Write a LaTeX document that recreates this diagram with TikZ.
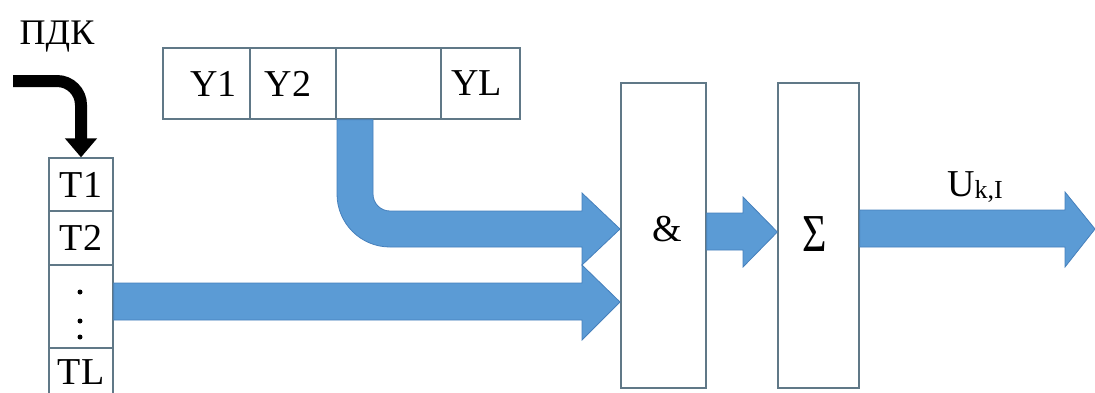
\documentclass[tikz,border=0pt]{standalone}
\usepackage{fontspec}
\setmainfont{Liberation Serif}
\usetikzlibrary{arrows.meta}
\definecolor{arrowblue}{RGB}{91,155,213}
\definecolor{arrowedge}{RGB}{70,128,188}
\definecolor{boxline}{RGB}{96,120,135}
\newcommand{\bigtxt}{\rmfamily\fontsize{38}{40}\selectfont}
\begin{document}
\begin{tikzpicture}[x=1pt,y=-1pt,
  cell/.style={draw=boxline, line width=1.3pt, fill=white, inner sep=0pt,
               font=\bigtxt},
  block/.style={draw=boxline, line width=1.3pt, fill=white, inner sep=0pt,
                minimum width=#1, minimum height=305pt},
  lbl/.style={inner sep=0pt, font=\bigtxt},
  fat/.style={fill=arrowblue, draw=arrowedge, line width=0.8pt, line join=miter},
  dotmark/.style={fill=black, circle, inner sep=0pt, minimum size=5pt}]
\useasboundingbox (0,0) rectangle (1095,392);
\clip (0,0) rectangle (1095,392);
\fill[white] (0,0) rectangle (1095,392);

% Y register
\node[cell, minimum width=87pt, minimum height=71pt] (y1) at (206.5,83.5) {\hspace*{14pt}Y1};
\node[cell, minimum width=86pt, minimum height=71pt] (y2) at (293,83.5) {Y2\hspace*{10pt}};
\node[cell, minimum width=105pt, minimum height=71pt] (y3) at (388.5,83.5) {};
\node[cell, minimum width=79pt, minimum height=71pt] (yl) at (480.5,83.5) {YL\hspace*{8pt}};

% T register
\node[cell, minimum width=64pt, minimum height=53pt] (t1) at (81,184.5) {T1};
\node[cell, minimum width=64pt, minimum height=54pt] (t2) at (81,238) {T2};
\node[cell, minimum width=64pt, minimum height=83pt] (t3) at (81,306.5) {};
\node[cell, minimum width=64pt, minimum height=60pt] (tl) at (81,378) {};
\node[lbl] (tltext) at (81,372) {TL};
\node[dotmark] (d1) at (80,292) {};
\node[dotmark] (d2) at (80,321) {};
\node[dotmark] (d3) at (80,337) {};

% blocks
\node[block=85pt] (and) at (663.5,235.5) {};
\node[block=81pt] (sum) at (818.5,235.5) {};
\node[lbl] (andlbl) at (667,229) {\&};
\node[lbl] (sumlbl) at (815,234) {\scalebox{1}[1.27]{\rmfamily\fontsize{42}{42}\selectfont Σ}};

% PDK
\node[lbl, font=\rmfamily\fontsize{36}{38}\selectfont] (pdk) at (57,37) {ПДК};
\coordinate (pdkstart) at (13,81);
\draw[line width=12pt, rounded corners=24pt,
      -{Triangle[length=19pt,width=31pt]}]
  (pdkstart) -- (t1.north |- pdkstart) -- (t1.north);

% blue fat arrows
\path[fat] (337,119.7) -- (337,194)
  .. controls (337,223.3) and (360.7,247) .. (390,247)
  -- (582,247) -- (582,265) -- (620,229) -- (582,193) -- (582,211)
  -- (390,211) .. controls (380.6,211) and (373,203.4) .. (373,194)
  -- (373,119.7) -- cycle;
\path[fat] (t3.east |- 0,283) -- (582,283) -- (582,265) -- (620,302)
  -- (582,340) -- (582,320) -- (t3.east |- 0,320) -- cycle;
\path[fat] (and.east |- 0,213) -- (743,213) -- (743,197) -- (sum.west |- 0,232)
  -- (743,267) -- (743,250) -- (and.east |- 0,250) -- cycle;
\path[fat] (sum.east |- 0,210) -- (1065,210) -- (1065,192) -- (1095,229)
  -- (1065,267) -- (1065,247) -- (sum.east |- 0,247) -- cycle;
\node[lbl, anchor=base] (ukl) at (975,196)
  {U\raisebox{-2pt}{\rmfamily\fontsize{26}{26}\selectfont k,I}};
\end{tikzpicture}
\end{document}
